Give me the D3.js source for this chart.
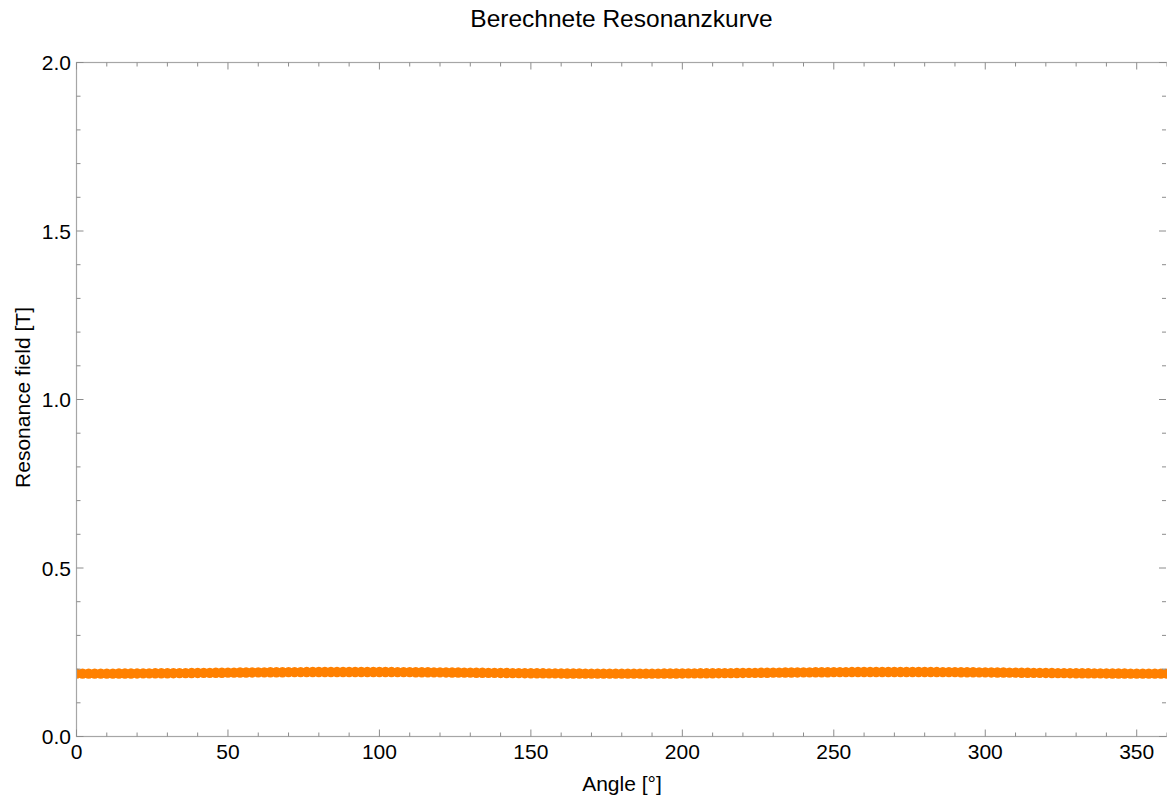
<!DOCTYPE html>
<html>
<head>
<meta charset="utf-8">
<script src="https://cdn.jsdelivr.net/npm/d3@7"></script>
<style>
  html, body { margin: 0; padding: 0; background: #fff; }
  svg { display: block; font-family: "Liberation Sans", Arial, sans-serif; }
</style>
</head>
<body>
<svg id="chart" width="1167" height="801"></svg>
<script>
// Computed resonance field (T) versus angle (deg), one point every 2 degrees
const angles = d3.range(0, 361, 2);
const field = [
  0.1865, 0.1865, 0.1865, 0.1866, 0.1866, 0.1867, 0.1867, 0.1868, 0.1869, 0.1870,
  0.1871, 0.1872, 0.1873, 0.1875, 0.1876, 0.1878, 0.1879, 0.1881, 0.1882, 0.1884,
  0.1886, 0.1887, 0.1889, 0.1891, 0.1893, 0.1894, 0.1896, 0.1898, 0.1899, 0.1901,
  0.1903, 0.1904, 0.1905, 0.1907, 0.1908, 0.1909, 0.1910, 0.1911, 0.1912, 0.1913,
  0.1913, 0.1914, 0.1914, 0.1915, 0.1915, 0.1915,
  0.1915, 0.1915, 0.1914, 0.1914, 0.1913, 0.1913, 0.1912, 0.1911, 0.1910, 0.1909,
  0.1908, 0.1907, 0.1905, 0.1904, 0.1903, 0.1901, 0.1899, 0.1898, 0.1896, 0.1894,
  0.1893, 0.1891, 0.1889, 0.1887, 0.1886, 0.1884, 0.1882, 0.1881, 0.1879, 0.1878,
  0.1876, 0.1875, 0.1873, 0.1872, 0.1871, 0.1870, 0.1869, 0.1868, 0.1867, 0.1867,
  0.1866, 0.1866, 0.1865, 0.1865, 0.1865,
  0.1865, 0.1865, 0.1866, 0.1866, 0.1867, 0.1867, 0.1868, 0.1869, 0.1870,
  0.1871, 0.1872, 0.1873, 0.1875, 0.1876, 0.1878, 0.1879, 0.1881, 0.1882, 0.1884,
  0.1886, 0.1887, 0.1889, 0.1891, 0.1893, 0.1894, 0.1896, 0.1898, 0.1899, 0.1901,
  0.1903, 0.1904, 0.1905, 0.1907, 0.1908, 0.1909, 0.1910, 0.1911, 0.1912, 0.1913,
  0.1913, 0.1914, 0.1914, 0.1915, 0.1915, 0.1915,
  0.1915, 0.1915, 0.1914, 0.1914, 0.1913, 0.1913, 0.1912, 0.1911, 0.1910, 0.1909,
  0.1908, 0.1907, 0.1905, 0.1904, 0.1903, 0.1901, 0.1899, 0.1898, 0.1896, 0.1894,
  0.1893, 0.1891, 0.1889, 0.1887, 0.1886, 0.1884, 0.1882, 0.1881, 0.1879, 0.1878,
  0.1876, 0.1875, 0.1873, 0.1872, 0.1871, 0.1870, 0.1869, 0.1868, 0.1867, 0.1867,
  0.1866, 0.1866, 0.1865, 0.1865, 0.1865
];

const xMajor = [0, 50, 100, 150, 200, 250, 300, 350];
const yMajor = [0.0, 0.5, 1.0, 1.5, 2.0];
const xMinor = d3.range(0, 361, 10);
const yMinor = d3.range(0, 21, 1).map(d => d / 10);

const title = "Berechnete Resonanzkurve";
const xLabel = "Angle [°]";
const yLabel = "Resonance field [T]";

const svg = d3.select("#chart");
const plotL = 76.5, plotR = 1167, plotT = 62.5, plotB = 736.5;

const x = d3.scaleLinear().domain([0, 360]).range([plotL, plotR]);
const y = d3.scaleLinear().domain([0, 2]).range([plotB, plotT]);

const frameColor = "#a6a6a6";
const tickColor = "#8c8c8c";

svg.append("defs").append("clipPath").attr("id", "plot-clip")
  .append("rect")
  .attr("x", plotL).attr("y", plotT)
  .attr("width", plotR - plotL + 2).attr("height", plotB - plotT);

// data points
svg.append("g")
  .attr("clip-path", "url(#plot-clip)")
  .selectAll("circle")
  .data(angles)
  .join("circle")
  .attr("cx", d => x(d))
  .attr("cy", (d, i) => y(field[i]))
  .attr("r", 5.2)
  .attr("fill", "#ff8000");

// frame
svg.append("rect")
  .attr("x", plotL).attr("y", plotT)
  .attr("width", plotR - plotL + 2).attr("height", plotB - plotT)
  .attr("fill", "none").attr("stroke", frameColor).attr("stroke-width", 1.2);

// inward ticks on all four sides
const xMaj = new Set(xMajor);
const ticks = svg.append("g").attr("stroke", tickColor).attr("stroke-width", 1);
xMinor.forEach(v => {
  const len = xMaj.has(v) ? 7 : 4;
  ticks.append("line").attr("x1", x(v)).attr("x2", x(v)).attr("y1", plotB).attr("y2", plotB - len);
  ticks.append("line").attr("x1", x(v)).attr("x2", x(v)).attr("y1", plotT).attr("y2", plotT + len);
});
yMinor.forEach(v => {
  const major = Math.abs(v * 2 - Math.round(v * 2)) < 1e-9;
  const len = major ? 7 : 4;
  ticks.append("line").attr("y1", y(v)).attr("y2", y(v)).attr("x1", plotL).attr("x2", plotL + len);
  ticks.append("line").attr("y1", y(v)).attr("y2", y(v)).attr("x1", plotR - 1).attr("x2", plotR - 1 - len);
});

// tick labels
svg.append("g").selectAll("text")
  .data(xMajor).join("text")
  .attr("x", d => x(d)).attr("y", 759)
  .attr("text-anchor", "middle")
  .attr("font-size", 21).attr("fill", "#000")
  .text(d => d);

svg.append("g").selectAll("text")
  .data(yMajor).join("text")
  .attr("x", 71).attr("y", d => y(d) + 7.5)
  .attr("text-anchor", "end")
  .attr("font-size", 21).attr("fill", "#000")
  .text(d => d3.format(".1f")(d));

// title and axis labels
svg.append("text")
  .attr("x", 621.5).attr("y", 27)
  .attr("text-anchor", "middle").attr("font-size", 24.5).attr("fill", "#000")
  .text(title);

svg.append("text")
  .attr("x", 622).attr("y", 791)
  .attr("text-anchor", "middle").attr("font-size", 21).attr("fill", "#000")
  .text(xLabel);

svg.append("text")
  .attr("transform", `translate(30,${(plotT + plotB) / 2 - 2}) rotate(-90)`)
  .attr("text-anchor", "middle").attr("font-size", 21).attr("fill", "#000")
  .text(yLabel);
</script>
</body>
</html>
